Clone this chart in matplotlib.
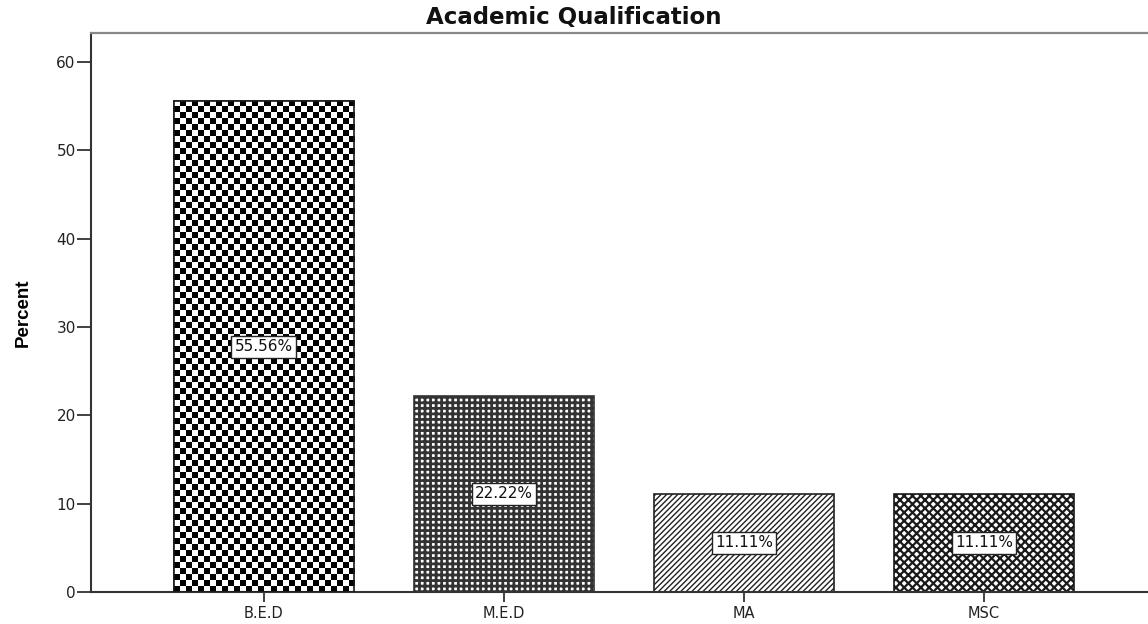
import numpy as np
import matplotlib
matplotlib.use("Agg")
import matplotlib.pyplot as plt

categories = ["B.E.D", "M.E.D", "MA", "MSC"]
percents = [55.56, 22.22, 11.11, 11.11]
label_texts = ["55.56%", "22.22%", "11.11%", "11.11%"]
yticks = [0, 10, 20, 30, 40, 50, 60]

plt.rcParams['font.family'] = ['DejaVu Sans']

fig = plt.figure(figsize=(11.48, 6.24), dpi=100)
ax = fig.add_axes([91/1148, 32/624, 1 - 91/1148, (592-33)/624])

x = np.arange(len(categories))
width = 0.75
hatches = [None, '+++', '//////', 'xxxx']
hatch_lw = [1.0, 2.0, 1.0, 1.6]
edge_cols = ['#1a1a1a', '#333333', '#222222', '#1a1a1a']
bars = []
for xi, v, h, lw, ec in zip(x, percents, hatches, hatch_lw, edge_cols):
    with plt.rc_context({'hatch.linewidth': lw, 'hatch.color': ec}):
        bc = ax.bar(xi, v, width=width, color='white', edgecolor=ec,
                    linewidth=1.2, zorder=2, hatch=h)
        b = bc[0]
        try:
            b.set_hatch_linewidth(lw)
        except AttributeError:
            pass
    bars.append(b)

ax.set_xlim(-0.72, 3.683)
ax.set_ylim(0, 63.3)

# checkerboard texture for first bar
b0 = bars[0]
x0, w0, h0 = b0.get_x(), b0.get_width(), b0.get_height()
ncols = 30
cell_h = 6 / ((592 - 33) / 63.3)
nrows = int(np.ceil(h0 / cell_h))
ii, jj = np.indices((nrows, ncols))
board = ((ii + jj) % 2).astype(float)
im = ax.imshow(board, cmap='gray', interpolation='nearest', aspect='auto',
               extent=[x0, x0 + w0, 0, nrows * cell_h], origin='lower',
               zorder=2.5, vmin=0, vmax=1)
im.set_clip_path(b0)
outline = plt.Rectangle((x0, 0), w0, h0, fill=False, edgecolor='#1a1a1a',
                        linewidth=1.2, zorder=3)
ax.add_patch(outline)
ax.set_xlim(-0.72, 3.683)
ax.set_ylim(0, 63.3)

for xi, v, t in zip(x, percents, label_texts):
    ax.text(xi, v / 2, t, ha='center', va='center', fontsize=11, zorder=5,
            color='#111111',
            bbox=dict(boxstyle='square,pad=0.22', facecolor='white',
                      edgecolor='#222222', linewidth=1.0))

ax.set_xticks(x)
ax.set_xticklabels(categories, fontsize=10.5)
ax.set_yticks(yticks)
ax.set_yticklabels([str(t) for t in yticks], fontsize=11)
ax.tick_params(axis='y', length=10, width=1.3, color='#333333', pad=1,
               labelcolor='#222222')
ax.tick_params(axis='x', length=7, width=1.3, color='#333333', pad=3,
               labelcolor='#222222')

for s in ['left', 'bottom']:
    ax.spines[s].set_color('#333333')
    ax.spines[s].set_linewidth(1.5)
ax.spines['top'].set_color('#888888')
ax.spines['top'].set_linewidth(1.6)
ax.spines['right'].set_visible(False)

ax.set_ylabel('Percent', fontsize=13.5, fontweight='bold',
              family=['Liberation Sans Narrow', 'Liberation Sans'], labelpad=18)
fig.text(0.5, 0.972, 'Academic Qualification', ha='center', va='center',
         fontsize=16.5, fontweight='bold', color='#111111')

fig.savefig('out.png', dpi=100)
